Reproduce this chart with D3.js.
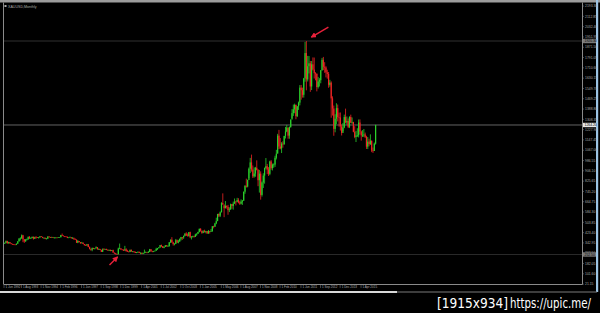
<!DOCTYPE html>
<html>
<head>
<meta charset="utf-8">
<script src="https://cdn.jsdelivr.net/npm/d3@7"></script>
<style>
  html, body { margin: 0; padding: 0; background: #000; }
  svg { display: block; }
</style>
</head>
<body>
<svg id="chart" width="600" height="313"></svg>
<script>
// XAUUSD monthly, Jun 1992 .. Feb 2016 (open = previous close)
var firstOpen = 337;
var closes = [
  343,357,340,349,339,334,333,
  330,328,337,355,377,378,402,372,355,369,371,391,
  378,381,391,376,387,386,384,386,394,389,383,383,
  375,376,392,389,385,387,383,383,384,383,387,387,
  405,400,396,393,391,382,385,387,379,379,371,369,
  345,358,349,340,345,334,326,325,332,311,296,290,
  303,297,301,310,293,296,288,273,293,292,294,288,
  287,287,280,286,268,261,255,254,299,300,292,290,
  283,293,278,275,272,288,276,277,273,264,270,274,
  265,266,258,264,267,270,266,273,293,278,275,278,
  282,296,302,308,326,318,305,312,324,316,317,347,
  368,347,334,336,364,346,354,375,388,386,398,416,
  400,396,427,387,393,395,391,408,415,428,453,438,
  422,434,428,435,417,437,429,433,473,470,495,513,
  569,556,582,654,643,614,633,624,599,604,646,632,
  650,665,661,678,659,650,665,673,743,789,783,834,
  923,972,916,863,885,930,913,833,884,718,815,869,
  928,942,916,883,979,927,954,955,1008,1040,1181,1096,
  1081,1118,1113,1179,1213,1244,1181,1248,1307,1357,1386,1421,
  1333,1410,1439,1556,1536,1500,1628,1826,1620,1723,1746,1565,
  1738,1697,1669,1664,1561,1604,1614,1691,1773,1719,1713,1675,
  1663,1578,1595,1472,1393,1234,1313,1396,1327,1323,1253,1202,
  1244,1326,1284,1296,1250,1327,1282,1287,1211,1171,1182,1184,
  1283,1213,1183,1184,1190,1172,1095,1134,1115,1142,1065,1061,
  1118,1264
];
var highs = [
  346,362,360,352,350,341,337,
  334,331,339,357,380,387,409,406,370,373,377,392,
  396,386,392,392,391,396,389,389,397,396,392,386,
  384,381,396,396,390,391,390,389,387,387,389,389,
  406,416,401,397,394,392,387,393,387,389,385,378,
  369,366,358,350,351,346,335,331,335,335,315,299,
  307,305,302,316,310,300,296,290,300,302,297,298,
  293,291,291,288,290,266,265,258,306,338,302,292,
  292,320,301,289,279,292,292,280,278,275,272,275,
  274,269,267,268,291,276,270,279,296,294,282,281,
  284,305,303,310,327,330,318,315,326,326,325,350,
  370,388,352,341,374,369,367,377,390,389,400,418,
  427,417,428,431,395,399,400,415,418,430,455,458,
  438,442,446,438,436,444,432,452,474,477,500,540,
  570,574,589,661,730,632,670,635,640,621,650,647,
  666,690,672,695,692,672,683,678,744,794,845,838,
  932,1007,1033,948,933,937,988,920,913,902,823,887,
  932,1006,960,935,985,990,963,964,1024,1070,1195,1226,
  1162,1130,1137,1179,1249,1265,1243,1253,1307,1388,1424,1431,
  1424,1412,1447,1576,1577,1556,1632,1913,1920,1804,1803,1764,
  1764,1792,1791,1677,1667,1640,1630,1694,1788,1796,1755,1723,
  1696,1678,1617,1605,1488,1416,1348,1434,1424,1361,1362,1267,
  1280,1345,1392,1331,1315,1332,1345,1323,1289,1255,1218,1239,
  1307,1308,1220,1224,1233,1205,1180,1170,1157,1191,1142,1088,
  1127,1266
];
var lows = [
  336,340,338,338,338,332,330,
  326,326,326,336,354,362,376,349,343,352,362,369,
  375,375,380,369,374,376,382,377,385,388,380,377,
  372,372,376,386,382,384,381,381,382,381,383,386,
  387,398,394,388,390,380,381,385,378,376,369,367,
  343,341,348,337,340,334,322,321,318,309,292,282,
  278,294,292,301,291,289,287,272,274,290,290,286,
  283,282,278,279,266,257,253,252.5,254,294,289,285,
  280,283,276,273,270,271,275,270,267,264,263,265,
  263,255,255,256,263,265,262,265,271,276,270,271,
  277,282,288,300,306,310,303,301,312,315,314,316,
  343,345,322,324,334,342,340,352,362,367,375,394,
  398,394,393,380,370,385,385,389,398,413,425,431,
  414,419,424,418,414,414,416,429,432,457,468,489,
  519,545,545,582,642,544,613,611,563,584,603,610,
  603,648,636,667,652,640,644,640,672,727,775,777,
  848,888,900,850,853,860,909,786,736,681,705,772,
  806,917,880,866,872,914,909,930,937,995,1044,1076,
  1074,1045,1087,1111,1159,1208,1157,1157,1243,1316,1335,1356,
  1309,1326,1382,1418,1462,1478,1478,1602,1535,1604,1667,1523,
  1537,1690,1627,1613,1527,1549,1565,1590,1689,1693,1672,1636,
  1626,1555,1563,1321,1338,1180,1207,1271,1292,1251,1221,1182,
  1216,1239,1277,1268,1240,1240,1281,1273,1207,1161,1131,1170,
  1167,1191,1142,1170,1170,1162,1077,1077,1098,1108,1052,1046,
  1061,1111
];

// price axis labels (right side)
var priceLabels = [
  "2193.30","2112.85","2032.40","1951.95","1871.50","1791.05","1710.60",
  "1630.15","1549.70","1469.25","1388.80","1308.35","1227.90","1147.45",
  "1067.00","986.55","906.10","825.65","745.20","664.75","584.30",
  "503.85","423.40","342.95","262.50","182.05","101.60","21.15"
];
// time axis labels
var timeLabels = [
  "1 Jun 1992","1 Aug 1993","1 Nov 1994","1 Feb 1996","1 Jun 1997",
  "1 Sep 1998","1 Dec 1999","1 Apr 2001","1 Jul 2002","1 Oct 2003",
  "1 Jan 2005","1 May 2006","1 Aug 2007","1 Nov 2008","1 Feb 2010",
  "1 Jun 2011","1 Sep 2012","1 Dec 2013","1 Apr 2015"
];
// horizontal lines on the chart
var topLine = 1920.30;
var lowLine = 252.50;
var lastPrice = 1264.20;

var months = d3.timeMonth.range(new Date(1992, 5, 1), new Date(2016, 2, 1));
var fmt = d3.timeFormat("%-d %b %Y");

var bars = closes.map(function(c, i) {
  return {
    date: months[i],
    open: i === 0 ? firstOpen : closes[i - 1],
    high: highs[i], low: lows[i], close: c
  };
});

var svg = d3.select("#chart");
var W = 600, H = 313;
var plot = {left: 4, right: 582, top: 4, bottom: 284};

svg.append("rect").attr("width", W).attr("height", H).attr("fill", "#000");

var x = d3.scaleLinear()
  .domain([0, bars.length - 1])
  .range([4.7, 375.6]);
var y = d3.scaleLinear()
  .domain([lowLine, topLine])
  .range([254.5, 41]);

// window frame
svg.append("rect").attr("x", 0).attr("y", 0).attr("width", W).attr("height", 2.5).attr("fill", "#9c9c9c");
svg.append("line").attr("x1", 3.5).attr("x2", 3.5).attr("y1", 2.5).attr("y2", plot.bottom)
  .attr("stroke", "#8a8a8a");
svg.append("line").attr("x1", plot.right + 0.5).attr("x2", plot.right + 0.5).attr("y1", 2.5).attr("y2", plot.bottom + 0.5)
  .attr("stroke", "#8a8a8a");
svg.append("line").attr("x1", 3.5).attr("x2", plot.right + 0.5).attr("y1", plot.bottom + 0.5).attr("y2", plot.bottom + 0.5)
  .attr("stroke", "#8a8a8a");
svg.append("rect").attr("x", 596).attr("y", 0).attr("width", 2.2).attr("height", 292).attr("fill", "#9cc4e4");
svg.append("line").attr("x1", 0).attr("x2", 397).attr("y1", 292).attr("y2", 292)
  .attr("stroke", "#d8d8d8").attr("stroke-width", 2);
svg.append("line").attr("x1", 397).attr("x2", 597).attr("y1", 292).attr("y2", 292)
  .attr("stroke", "#7a7a7a").attr("stroke-width", 1);

// title
svg.append("rect").attr("x", 4.5).attr("y", 5).attr("width", 2).attr("height", 2).attr("fill", "#aaa");
svg.append("text").attr("x", 8).attr("y", 7.6)
  .attr("font-family", "Liberation Sans, sans-serif").attr("font-size", 3.6)
  .attr("fill", "#a8a8a8").text("XAUUSD,Monthly");

svg.append("clipPath").attr("id", "clip")
  .append("rect").attr("x", plot.left).attr("y", plot.top)
  .attr("width", plot.right - plot.left).attr("height", plot.bottom - plot.top);

var g = svg.append("g").attr("clip-path", "url(#clip)");

// horizontal lines
g.append("line").attr("x1", plot.left).attr("x2", plot.right)
  .attr("y1", y(topLine)).attr("y2", y(topLine))
  .attr("stroke", "#3c3c3c").attr("stroke-width", 0.8);
g.append("line").attr("x1", plot.left).attr("x2", plot.right)
  .attr("y1", y(lowLine)).attr("y2", y(lowLine))
  .attr("stroke", "#343434").attr("stroke-width", 0.8);
g.append("line").attr("x1", plot.left).attr("x2", plot.right)
  .attr("y1", y(lastPrice)).attr("y2", y(lastPrice))
  .attr("stroke", "#6e6e6e").attr("stroke-width", 0.9);

// candles
var upCol = "#2bd12b", dnCol = "#f02424";
var cndl = g.selectAll("g.candle")
  .data(bars)
  .enter()
  .append("g")
  .attr("class", "candle");
cndl.append("line")
  .attr("x1", function(d, i) { return x(i); })
  .attr("x2", function(d, i) { return x(i); })
  .attr("y1", function(d) { return y(d.high); })
  .attr("y2", function(d) { return y(d.low); })
  .attr("stroke", function(d) { return d.close >= d.open ? upCol : dnCol; })
  .attr("stroke-width", 0.8);
cndl.append("rect")
  .attr("x", function(d, i) { return x(i) - 0.6; })
  .attr("width", 1.2)
  .attr("y", function(d) { return y(Math.max(d.open, d.close)); })
  .attr("height", function(d) { return Math.max(0.6, Math.abs(y(d.open) - y(d.close))); })
  .attr("fill", function(d) { return d.close >= d.open ? upCol : dnCol; });

// red arrows drawn on the chart
var peakIdx = d3.maxIndex(highs), lowIdx = d3.minIndex(lows);
svg.append("defs").append("marker")
  .attr("id", "head").attr("viewBox", "0 0 6 6").attr("refX", 5).attr("refY", 3)
  .attr("markerWidth", 4).attr("markerHeight", 4).attr("orient", "auto")
  .append("path").attr("d", "M0,0L6,3L0,6Z").attr("fill", "#e8203a");
var arrows = [
  {tx: x(peakIdx) + 5, ty: y(highs[peakIdx]) - 4, dx: 17, dy: -10},
  {tx: x(lowIdx) + 0.5, ty: y(lows[lowIdx]) + 2.5, dx: -8, dy: 8}
];
g.selectAll("line.arrow")
  .data(arrows)
  .enter()
  .append("line")
  .attr("class", "arrow")
  .attr("x1", function(d) { return d.tx + d.dx; })
  .attr("y1", function(d) { return d.ty + d.dy; })
  .attr("x2", function(d) { return d.tx; })
  .attr("y2", function(d) { return d.ty; })
  .attr("stroke", "#e8203a").attr("stroke-width", 1.4)
  .attr("marker-end", "url(#head)");

// price axis
var pa = svg.append("g").attr("font-family", "Liberation Sans, sans-serif").attr("font-size", 3.4);
pa.selectAll("line.ptick")
  .data(priceLabels)
  .enter()
  .append("line")
  .attr("x1", plot.right).attr("x2", plot.right + 2)
  .attr("y1", function(d) { return y(+d); })
  .attr("y2", function(d) { return y(+d); })
  .attr("stroke", "#888").attr("stroke-width", 0.5);
pa.selectAll("text.plabel")
  .data(priceLabels)
  .enter()
  .append("text")
  .attr("x", plot.right + 3)
  .attr("y", function(d) { return y(+d) + 1.2; })
  .attr("fill", "#a8a8a8")
  .text(function(d) { return d; });

var marks = [
  {v: topLine, bg: "#7a7a7a", fg: "#000"},
  {v: lowLine, bg: "#7a7a7a", fg: "#000"},
  {v: lastPrice, bg: "#e8e8e8", fg: "#000"}
];
marks.forEach(function(m) {
  pa.append("rect").attr("x", plot.right + 1).attr("y", y(m.v) - 2.2)
    .attr("width", 13).attr("height", 4.4).attr("fill", m.bg);
  pa.append("text").attr("x", plot.right + 2.5).attr("y", y(m.v) + 1.2)
    .attr("fill", m.fg).text(m.v.toFixed(2));
});

// time axis
var ta = svg.append("g").attr("font-family", "Liberation Sans, sans-serif").attr("font-size", 3.0);
timeLabels.forEach(function(t, k) {
  var i = months.findIndex(function(m) { return fmt(m) === t; });
  var px = Math.max(plot.left, x(i) - 1.5);
  ta.append("line").attr("x1", px).attr("x2", px)
    .attr("y1", plot.bottom).attr("y2", plot.bottom + 4)
    .attr("stroke", "#888").attr("stroke-width", 0.5);
  ta.append("text").attr("x", px + 1.5).attr("y", plot.bottom + 4.2)
    .attr("fill", "#b0b0b0").text(t);
});

// upload watermark
svg.append("text").attr("transform", "translate(437,308) scale(0.87,1)")
  .attr("font-family", "DejaVu Sans, sans-serif").attr("font-size", 14)
  .attr("fill", "#fff").text("[1915x934]");
svg.append("text").attr("transform", "translate(510,308) scale(0.73,1)")
  .attr("font-family", "DejaVu Sans, sans-serif").attr("font-size", 14)
  .attr("fill", "#fff").text("https://upic.me/");
</script>
</body>
</html>
